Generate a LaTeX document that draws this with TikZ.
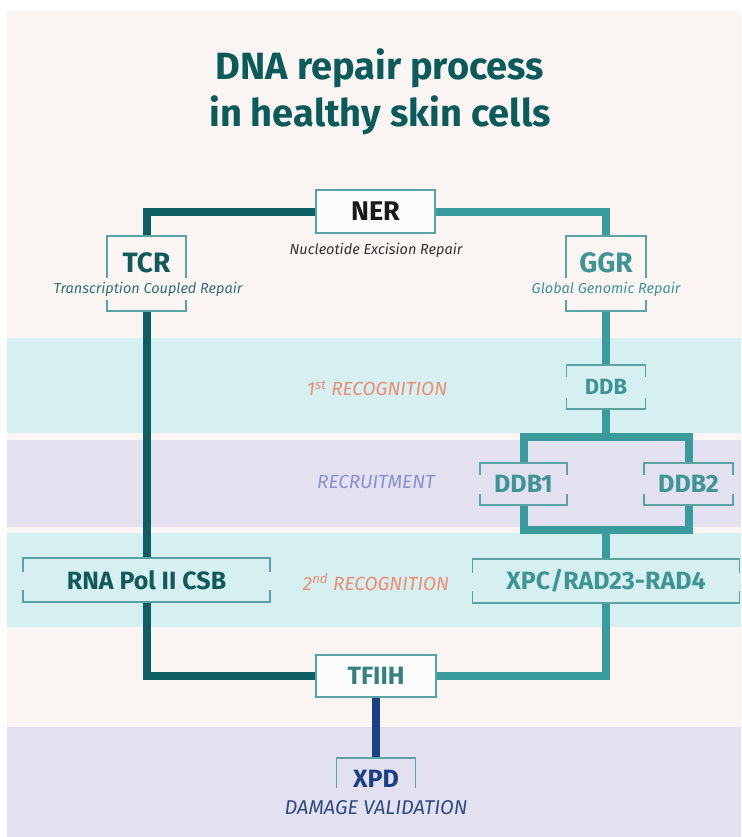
\documentclass[tikz,border=0pt]{standalone}
\usepackage{fontspec}
\setmainfont{Fira Sans}
\usetikzlibrary{calc}
\definecolor{bgpink}{HTML}{FAF4F2}
\definecolor{bandcyan}{HTML}{D6EFF1}
\definecolor{bandlav}{HTML}{E3E0F0}
\definecolor{darkteal}{HTML}{0F5E62}
\definecolor{lightteal}{HTML}{3A9B9D}
\definecolor{boxline}{HTML}{5AA3A3}
\definecolor{titlecol}{HTML}{0B5B5B}
\definecolor{salmon}{HTML}{EC8D73}
\definecolor{lavtext}{HTML}{8C8FD4}
\definecolor{navy}{HTML}{1B3F86}
\definecolor{navytext}{HTML}{2D4C85}
\definecolor{tealtext}{HTML}{3F9596}
\definecolor{dktext}{HTML}{11595B}
\tikzset{
  boxshape/.style={rectangle, inner sep=0pt, outer sep=0pt},
  fullbox/.style={boxshape, draw=boxline, line width=1.3pt, fill=white, fill opacity=0.55},
  dk/.style={draw=darkteal, line width=8pt, line join=miter},
  lt/.style={draw=lightteal, line width=8pt, line join=miter},
  nv/.style={draw=navy, line width=8pt},
  brk/.style={draw=boxline, line width=1.3pt},
  big/.style={font=\bfseries\fontsize{25}{30}\selectfont, inner sep=0pt},
  sub/.style={font=\itshape\fontsize{14.5}{17}\selectfont, inner sep=0pt},
  stage/.style={font=\itshape\fontsize{19}{22}\selectfont, inner sep=0pt},
}
\newcommand\bracketbox[3]{%
  \draw[brk] ([yshift=-#2pt]#1.north west) -- (#1.north west) -- (#1.north east) -- ([yshift=-#2pt]#1.north east);
  \draw[brk] ([yshift=#3pt]#1.south west) -- (#1.south west) -- (#1.south east) -- ([yshift=#3pt]#1.south east);}
\begin{document}
\begin{tikzpicture}[x=1pt, y=-1pt]
\useasboundingbox (0,0) rectangle (741,837);
\fill[white] (0,0) rectangle (741,837);
\fill[bgpink] (7,11) rectangle (741,837);
\fill[bandcyan] (7,338) rectangle (741,433);
\fill[bandlav] (7,440) rectangle (741,527);
\fill[bandcyan] (7,533) rectangle (741,627);
\fill[bandlav] (7,727) rectangle (741,837);

% title
\node[font=\bfseries\fontsize{38}{47}\selectfont, text=titlecol, align=center, inner sep=0pt] (title) at (380,92) {DNA repair process\\in healthy skin cells};

% boxes
\node[fullbox, minimum width=119pt, minimum height=43pt] (ner) at (375.5,211.5) {};
\node[boxshape, minimum width=79pt, minimum height=75pt] (tcr) at (146.5,273.5) {};
\node[boxshape, minimum width=80pt, minimum height=75pt] (ggr) at (606,273.5) {};
\node[boxshape, minimum width=247pt, minimum height=44pt] (rna) at (146.5,580) {};
\node[boxshape, minimum width=79pt, minimum height=44pt] (ddb) at (606,387) {};
\node[boxshape, minimum width=87pt, minimum height=42pt] (ddb1) at (523.5,484) {};
\node[boxshape, minimum width=89pt, minimum height=42pt] (ddb2) at (688.5,484) {};
\node[boxshape, minimum width=267pt, minimum height=44pt] (xpc) at (606,581) {};
\node[fullbox, minimum width=120pt, minimum height=42pt] (tfiih) at (376,676) {};
\node[boxshape, minimum width=79pt, minimum height=60pt] (xpd) at (376,788) {};

% connectors
\draw[dk] (ner.west) -| (tcr.north);
\draw[dk] (tcr.south) -- (rna.north);
\draw[dk] (rna.south) |- (tfiih.west);
\draw[lt] (ner.east) -| (ggr.north);
\draw[lt] (ggr.south) -- (ddb.north);
\coordinate (split) at (606,437);
\coordinate (join) at (606,530);
\draw[lt] (ddb.south) -- (split);
\draw[lt] (ddb1.north) -- (ddb1.north |- split) -- (ddb2.north |- split) -- (ddb2.north);
\draw[lt] (ddb1.south) -- (ddb1.south |- join) -- (ddb2.south |- join) -- (ddb2.south);
\draw[lt] (join) -- (xpc.north);
\draw[lt] (xpc.south) |- (tfiih.east);
\draw[nv] (tfiih.south) -- (xpd.north);

% redraw full boxes on top
\node[fullbox, minimum width=119pt, minimum height=43pt] at (ner) {};
\node[fullbox, minimum width=120pt, minimum height=42pt] at (tfiih) {};

% brackets
\bracketbox{tcr}{42}{11}
\bracketbox{ggr}{42}{11}
\bracketbox{rna}{14}{12}
\bracketbox{ddb}{12}{11}
\bracketbox{ddb1}{12}{11}
\bracketbox{ddb2}{12}{11}
\bracketbox{xpc}{14}{12}
\draw[brk] ([yshift=-30pt]xpd.north west) -- (xpd.north west) -- (xpd.north east) -- ([yshift=-30pt]xpd.north east);

% texts
\node[big, text=black!90, font=\bfseries\fontsize{27}{32}\selectfont] (nerT) at (ner) {NER};
\node[sub, text=black!80] (nerS) at (376,250) {Nucleotide Excision Repair};
\node[big, text=dktext, font=\bfseries\fontsize{28}{32}\selectfont] (tcrT) at (146.5,263) {TCR};
\node[sub, text=dktext!85] (tcrS) at (148,289) {Transcription Coupled Repair};
\node[big, text=tealtext, font=\bfseries\fontsize{28}{32}\selectfont] (ggrT) at (606,263) {GGR};
\node[big, text=tealtext, font=\bfseries\fontsize{22}{26}\selectfont] (ddbT) at (ddb) {DDB};
\node[sub, text=tealtext] (ggrS) at (606,289) {Global Genomic Repair};
\node[big, text=tealtext] (ddb1T) at (ddb1) {DDB1};
\node[big, text=tealtext] (ddb2T) at (ddb2) {DDB2};
\node[big, text=dktext] (rnaT) at (rna) {RNA Pol II CSB};
\node[big, text=tealtext] (xpcT) at (xpc) {XPC/RAD23-RAD4};
\node[big, text=tealtext!85!black] (tfiihT) at (tfiih) {TFIIH};
\node[big, text=navy] (xpdT) at (376,779) {XPD};
\node[stage, text=navytext, font=\itshape\fontsize{20}{24}\selectfont] (dmg) at (376,808) {DAMAGE VALIDATION};

\node[stage, text=salmon] (rec1) at (377,388) {1\textsuperscript{st} RECOGNITION};
\node[stage, text=lavtext] (recr) at (376,482) {RECRUITMENT};
\node[stage, text=salmon] (rec2) at (376,582) {2\textsuperscript{nd} RECOGNITION};
\end{tikzpicture}
\end{document}
